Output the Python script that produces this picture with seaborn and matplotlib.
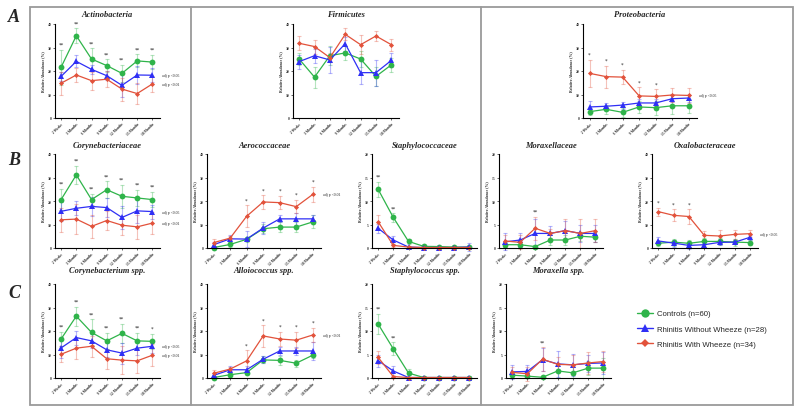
import matplotlib
matplotlib.use('Agg')
import matplotlib.pyplot as plt
from matplotlib.lines import Line2D
from matplotlib.patches import Rectangle
import pandas as pd
import seaborn as sns

# Time points and groups
TIMES = ['2 Weeks', '3 Months', '6 Months', '9 Months', '12 Months', '15 Months', '18 Months']
GROUPS = ['Controls (n=60)', 'Rhinitis Without Wheeze (n=28)', 'Rhinitis With Wheeze (n=34)']

# --- Phylum level ---
ACTINO_CTRL = [21.6, 35.0, 25.1, 22.3, 19.0, 24.3, 23.8]
ACTINO_CTRL_ERR = [7.4, 3.2, 4.5, 2.7, 3.6, 2.8, 3.0]
ACTINO_RWOW = [17.7, 24.1, 20.7, 18.0, 13.9, 18.3, 18.2]
ACTINO_RWOW_ERR = [2.0, 2.5, 2.0, 2.0, 5.0, 4.0, 3.0]
ACTINO_RWW = [14.8, 18.3, 15.9, 16.5, 12.3, 10.4, 14.5]
ACTINO_RWW_ERR = [4.8, 3.1, 3.8, 3.4, 4.9, 4.4, 3.3]

FIRM_CTRL = [25.1, 17.4, 26.5, 27.7, 25.1, 17.7, 22.6]
FIRM_CTRL_ERR = [2.5, 4.5, 4.0, 3.0, 3.5, 4.0, 3.0]
FIRM_RWOW = [24.0, 26.5, 24.7, 31.6, 19.3, 19.3, 24.5]
FIRM_RWOW_ERR = [3.0, 3.0, 5.5, 3.0, 5.0, 5.5, 3.0]
FIRM_RWW = [31.8, 30.4, 25.7, 35.6, 31.2, 34.9, 31.2]
FIRM_RWW_ERR = [3.0, 3.0, 2.0, 2.5, 4.0, 2.0, 2.5]

PROTEO_CTRL = [2.7, 3.7, 2.4, 4.7, 4.4, 5.2, 5.2]
PROTEO_CTRL_ERR = [1.5, 2.0, 2.0, 2.5, 3.0, 3.5, 3.0]
PROTEO_RWOW = [4.7, 5.0, 5.5, 6.4, 6.4, 8.2, 8.5]
PROTEO_RWOW_ERR = [2.5, 1.5, 1.5, 1.5, 1.5, 1.5, 1.5]
PROTEO_RWW = [19.0, 17.6, 17.4, 9.4, 9.2, 9.8, 9.6]
PROTEO_RWW_ERR = [5.7, 4.7, 3.0, 3.6, 3.0, 2.8, 3.3]

# --- Family level ---
CORYF_CTRL = [20.6, 31.1, 20.6, 24.8, 22.0, 21.3, 20.6]
CORYF_CTRL_ERR = [4.5, 3.9, 2.5, 3.5, 5.0, 3.5, 3.3]
CORYF_RWOW = [15.6, 16.9, 17.7, 17.2, 13.0, 15.8, 15.5]
CORYF_RWOW_ERR = [4.0, 3.0, 4.0, 4.0, 5.0, 5.0, 3.0]
CORYF_RWW = [12.0, 12.3, 9.2, 11.7, 9.7, 9.0, 10.6]
CORYF_RWW_ERR = [5.0, 6.5, 5.0, 4.0, 4.0, 5.0, 4.6]

AERO_CTRL = [0.2, 1.5, 3.7, 8.2, 8.9, 8.9, 11.1]
AERO_CTRL_ERR = [0.3, 1.0, 1.0, 2.0, 2.0, 2.0, 2.8]
AERO_RWOW = [1.4, 3.9, 3.8, 8.5, 12.4, 12.4, 12.4]
AERO_RWOW_ERR = [1.0, 1.8, 3.4, 2.4, 1.5, 2.5, 1.8]
AERO_RWW = [2.3, 4.2, 13.5, 19.6, 19.3, 17.6, 22.8]
AERO_RWW_ERR = [1.5, 1.0, 4.6, 2.8, 2.8, 2.8, 3.1]

STAPHF_CTRL = [12.5, 6.5, 1.4, 0.35, 0.3, 0.2, 0.2]
STAPHF_CTRL_ERR = [1.6, 0.9, 0.6, 0.2, 0.1, 0.1, 0.1]
STAPHF_RWOW = [4.2, 1.7, 0.2, 0.1, 0.1, 0.1, 0.2]
STAPHF_RWOW_ERR = [1.0, 0.9, 0.2, 0.2, 0.2, 0.2, 0.8]
STAPHF_RWW = [5.6, 0.55, 0.2, 0.1, 0.1, 0.1, 0.1]
STAPHF_RWW_ERR = [1.4, 0.3, 0.1, 0.1, 0.1, 0.1, 0.1]

MORAXF_CTRL = [0.7, 0.7, 0.3, 1.7, 1.7, 2.5, 2.3]
MORAXF_CTRL_ERR = [0.5, 0.5, 0.3, 1.0, 1.0, 1.0, 1.0]
MORAXF_RWOW = [1.3, 1.7, 3.1, 3.1, 3.7, 3.1, 3.1]
MORAXF_RWOW_ERR = [1.8, 1.5, 3.0, 1.5, 2.0, 1.8, 1.8]
MORAXF_RWW = [1.5, 1.2, 4.2, 3.1, 3.7, 3.1, 3.7]
MORAXF_RWW_ERR = [1.2, 1.5, 2.5, 1.0, 2.5, 3.0, 2.5]

OXALO_CTRL = [2.0, 2.5, 2.0, 2.8, 2.8, 2.5, 2.3]
OXALO_CTRL_ERR = [1.0, 1.5, 1.5, 1.5, 1.5, 1.5, 1.0]
OXALO_RWOW = [3.0, 2.1, 1.1, 1.4, 2.4, 2.5, 4.6]
OXALO_RWOW_ERR = [1.5, 1.5, 1.5, 1.0, 1.0, 1.0, 1.0]
OXALO_RWW = [15.5, 13.9, 13.4, 5.4, 5.1, 5.8, 6.1]
OXALO_RWW_ERR = [1.7, 2.5, 3.0, 2.0, 2.5, 2.0, 1.5]

# --- Genus level ---
CORYS_CTRL = [16.6, 26.3, 19.4, 15.8, 19.0, 15.8, 15.6]
CORYS_CTRL_ERR = [3.0, 4.0, 5.5, 3.5, 4.0, 3.5, 3.2]
CORYS_RWOW = [12.8, 17.2, 15.8, 12.0, 10.6, 12.7, 13.5]
CORYS_RWOW_ERR = [4.5, 3.0, 3.0, 3.0, 4.5, 3.0, 2.7]
CORYS_RWW = [10.1, 12.7, 13.5, 8.2, 7.6, 7.3, 9.7]
CORYS_RWW_ERR = [3.5, 4.5, 4.5, 4.3, 6.0, 5.0, 4.7]

ALLO_CTRL = [0.2, 1.4, 2.3, 7.7, 7.5, 6.3, 9.7]
ALLO_CTRL_ERR = [0.3, 0.7, 0.7, 1.5, 2.0, 1.5, 1.0]
ALLO_RWOW = [1.1, 3.5, 3.5, 8.0, 11.5, 11.5, 11.5]
ALLO_RWOW_ERR = [1.0, 1.5, 1.7, 1.5, 1.5, 1.5, 3.7]
ALLO_RWW = [2.0, 3.8, 7.3, 17.9, 16.6, 16.1, 18.3]
ALLO_RWW_ERR = [1.5, 1.0, 4.5, 4.5, 3.0, 3.5, 3.0]

STAPHS_CTRL = [11.5, 6.2, 1.05, 0.1, 0.1, 0.1, 0.1]
STAPHS_CTRL_ERR = [2.2, 1.4, 0.8, 0.2, 0.1, 0.1, 0.1]
STAPHS_RWOW = [3.7, 1.5, 0.1, 0.1, 0.1, 0.1, 0.1]
STAPHS_RWOW_ERR = [1.3, 1.0, 0.2, 0.2, 0.2, 0.2, 0.4]
STAPHS_RWW = [4.4, 0.3, 0.1, 0.1, 0.1, 0.1, 0.1]
STAPHS_RWW_ERR = [1.4, 0.4, 0.1, 0.1, 0.1, 0.1, 0.1]

MORAXS_CTRL = [0.6, 0.4, 0.15, 1.5, 1.1, 2.1, 2.1]
MORAXS_CTRL_ERR = [0.5, 0.5, 0.2, 1.4, 1.2, 1.5, 2.2]
MORAXS_RWOW = [1.3, 1.4, 3.9, 3.0, 2.8, 3.1, 3.2]
MORAXS_RWOW_ERR = [1.5, 1.3, 2.5, 2.8, 2.3, 1.8, 2.4]
MORAXS_RWW = [1.2, 0.9, 4.0, 2.9, 2.8, 3.2, 3.5]
MORAXS_RWW_ERR = [1.2, 1.5, 2.5, 1.5, 2.2, 2.3, 2.3]

# Significance marks per time point
ACTINO_STARS = ['**'] * 7
FIRM_STARS = [''] * 7
PROTEO_STARS = ['*', '*', '*', '*', '*', '', '']
CORYF_STARS = ['**'] * 7
AERO_STARS = ['', '', '*', '*', '*', '*', '*']
STAPHF_STARS = ['**', '**', '', '', '', '', '']
MORAXF_STARS = ['', '', '**', '', '', '', '']
OXALO_STARS = ['*', '*', '*', '', '', '', '']
CORYS_STARS = ['**'] * 6 + ['*']
ALLO_STARS = ['', '', '*', '*', '*', '*', '*']
STAPHS_STARS = ['**', '**', '', '', '', '', '']
MORAXS_STARS = ['', '', '**', '', '', '', '']

COLORS = ['#2fb44a', '#2f2ff5', '#e2523b']
MARKERS = ['o', '^', 'D']
MSIZES = [4.2, 3.8, 2.6]

sns.set_theme(style="ticks")
plt.rcParams['font.family'] = ['Liberation Serif', 'DejaVu Serif']

W, H = 800, 414
fig = plt.figure(figsize=(W / 100, H / 100), dpi=100)


def rect(l, r, t, b):
    return [l / W, 1 - b / H, (r - l) / W, (b - t) / H]


def draw_panel(title, pos, ymax, series, stars, adjp, title_y):
    ax = fig.add_axes(rect(*pos))
    rows = []
    for g, (vals, errs) in zip(GROUPS, series):
        for i, (v, e) in enumerate(zip(vals, errs)):
            rows.append({'group': g, 'x': i, 'value': v, 'err': e})
    df = pd.DataFrame(rows)

    for k, g in enumerate(GROUPS):
        d = df[df['group'] == g]
        ax.errorbar(d['x'], d['value'], yerr=d['err'], fmt='none', ecolor=COLORS[k],
                    alpha=0.35, elinewidth=0.8, capsize=1.6, capthick=0.8, clip_on=False)
    for k, g in enumerate(GROUPS):
        d = df[df['group'] == g]
        sns.lineplot(data=d, x='x', y='value', color=COLORS[k], marker=MARKERS[k],
                     markersize=MSIZES[k], markeredgewidth=0, linewidth=0.9,
                     ax=ax, clip_on=False, legend=False)

    # significance stars above the highest error bar
    tops = df.assign(top=df['value'] + df['err']).groupby('x')['top'].max()
    for i, s in enumerate(stars):
        if s:
            ax.text(i, tops[i] + 0.06 * ymax, s, ha='center', va='center', fontsize=3.8,
                    family='DejaVu Sans')

    for k, txt in adjp:
        ax.text(1.02, series[k][0][-1], txt, transform=ax.get_yaxis_transform(),
                fontsize=2.8, va='center', ha='left')

    ax.set_xlim(-0.4, 6.5)
    ax.set_ylim(0, ymax)
    ax.set_yticks([ymax * j / 4 for j in range(5)])
    ax.set_yticklabels([f'{int(ymax * j / 4)}' for j in range(5)], fontsize=2.6, fontweight='bold')
    ax.set_xticks(range(7))
    ax.set_xticklabels(TIMES, rotation=45, ha='right', rotation_mode='anchor',
                       fontsize=2.6, fontweight='bold')
    ax.set_xlabel('')
    ax.set_ylabel('Relative Abundance (%)', fontsize=2.8, fontweight='bold', labelpad=2)
    ax.tick_params(length=1.5, width=0.5, pad=1)
    for sp in ['top', 'right']:
        ax.spines[sp].set_visible(False)
    for sp in ['left', 'bottom']:
        ax.spines[sp].set_linewidth(0.8)
        ax.spines[sp].set_color('black')
    ax.set_facecolor('none')

    cx = (pos[0] + pos[1]) / 2
    fig.text(cx / W, 1 - title_y / H, title, ha='center', va='center', fontsize=6,
             fontweight='bold', style='italic')
    return ax


ROW_A = (25, 119)
ROW_B = (155, 249)
ROW_C = (285, 379)

draw_panel('Actinobacteria', (55, 160) + ROW_A, 40,
           [(ACTINO_CTRL, ACTINO_CTRL_ERR), (ACTINO_RWOW, ACTINO_RWOW_ERR), (ACTINO_RWW, ACTINO_RWW_ERR)],
           ACTINO_STARS, [(1, 'adj p <0.05'), (2, 'adj p <0.01')], 15)
draw_panel('Firmicutes', (293, 399) + ROW_A, 40,
           [(FIRM_CTRL, FIRM_CTRL_ERR), (FIRM_RWOW, FIRM_RWOW_ERR), (FIRM_RWW, FIRM_RWW_ERR)],
           FIRM_STARS, [], 15)
draw_panel('Proteobacteria', (583, 697) + ROW_A, 40,
           [(PROTEO_CTRL, PROTEO_CTRL_ERR), (PROTEO_RWOW, PROTEO_RWOW_ERR), (PROTEO_RWW, PROTEO_RWW_ERR)],
           PROTEO_STARS, [(2, 'adj p <0.05')], 15)

draw_panel('Corynebacteriaceae', (55, 160) + ROW_B, 40,
           [(CORYF_CTRL, CORYF_CTRL_ERR), (CORYF_RWOW, CORYF_RWOW_ERR), (CORYF_RWW, CORYF_RWW_ERR)],
           CORYF_STARS, [(1, 'adj p <0.05'), (2, 'adj p <0.01')], 146)
draw_panel('Aerococcaceae', (207, 321) + ROW_B, 40,
           [(AERO_CTRL, AERO_CTRL_ERR), (AERO_RWOW, AERO_RWOW_ERR), (AERO_RWW, AERO_RWW_ERR)],
           AERO_STARS, [(2, 'adj p <0.01')], 146)
draw_panel('Staphylococcaceae', (372, 477) + ROW_B, 20,
           [(STAPHF_CTRL, STAPHF_CTRL_ERR), (STAPHF_RWOW, STAPHF_RWOW_ERR), (STAPHF_RWW, STAPHF_RWW_ERR)],
           STAPHF_STARS, [], 146)
draw_panel('Moraxellaceae', (499, 603) + ROW_B, 20,
           [(MORAXF_CTRL, MORAXF_CTRL_ERR), (MORAXF_RWOW, MORAXF_RWOW_ERR), (MORAXF_RWW, MORAXF_RWW_ERR)],
           MORAXF_STARS, [], 146)
draw_panel('Oxalobacteraceae', (652, 758) + ROW_B, 40,
           [(OXALO_CTRL, OXALO_CTRL_ERR), (OXALO_RWOW, OXALO_RWOW_ERR), (OXALO_RWW, OXALO_RWW_ERR)],
           OXALO_STARS, [(2, 'adj p <0.05')], 146)

draw_panel('Corynebacterium spp.', (55, 160) + ROW_C, 40,
           [(CORYS_CTRL, CORYS_CTRL_ERR), (CORYS_RWOW, CORYS_RWOW_ERR), (CORYS_RWW, CORYS_RWW_ERR)],
           CORYS_STARS, [(1, 'adj p <0.05'), (2, 'adj p <0.01')], 271)
draw_panel('Alloiococcus spp.', (207, 321) + ROW_C, 40,
           [(ALLO_CTRL, ALLO_CTRL_ERR), (ALLO_RWOW, ALLO_RWOW_ERR), (ALLO_RWW, ALLO_RWW_ERR)],
           ALLO_STARS, [(2, 'adj p <0.01')], 271)
draw_panel('Staphylococcus spp.', (372, 477) + ROW_C, 20,
           [(STAPHS_CTRL, STAPHS_CTRL_ERR), (STAPHS_RWOW, STAPHS_RWOW_ERR), (STAPHS_RWW, STAPHS_RWW_ERR)],
           STAPHS_STARS, [], 271)
draw_panel('Moraxella spp.', (506, 611) + ROW_C, 20,
           [(MORAXS_CTRL, MORAXS_CTRL_ERR), (MORAXS_RWOW, MORAXS_RWOW_ERR), (MORAXS_RWW, MORAXS_RWW_ERR)],
           MORAXS_STARS, [], 271)

# Frames around the three columns
frame_col = '#9a9a9a'
fig.add_artist(Rectangle((30 / W, 1 - 406 / H), (793 - 30) / W, (406 - 8) / H,
                         transform=fig.transFigure, fill=False, edgecolor=frame_col, linewidth=1.3))
for xv in [191, 481]:
    fig.add_artist(Line2D([xv / W, xv / W], [1 - 406 / H, 1 - 8 / H], transform=fig.transFigure,
                          color=frame_col, linewidth=1.3))

# Panel letters
for letter, yv in [('A', 18), ('B', 161), ('C', 293)]:
    fig.text(14 / W, 1 - yv / H, letter, ha='center', va='center', fontsize=13,
             fontweight='bold', style='italic')

# Legend
handles = [Line2D([0], [0], color=COLORS[k], marker=MARKERS[k], markersize=[6, 5.5, 4][k],
                  markeredgewidth=0, linewidth=1.0) for k in range(3)]
fig.legend(handles, GROUPS, loc='upper left', bbox_to_anchor=(637 / W, 1 - 311 / H),
           frameon=False, fontsize=5.6, handlelength=2.0, handletextpad=0.6,
           labelspacing=1.0, borderpad=0, borderaxespad=0,
           prop={'family': ['Liberation Sans', 'DejaVu Sans'], 'size': 5.6})

fig.savefig('out.png', dpi=100)
